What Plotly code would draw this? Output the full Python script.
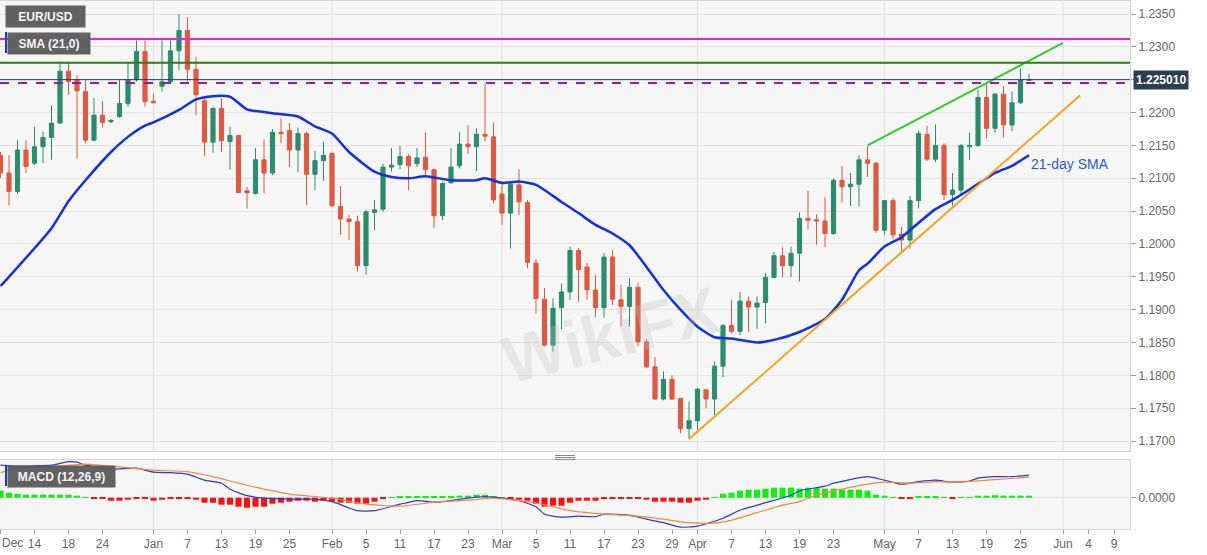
import pandas as pd
import plotly.graph_objects as go

# ---------------- data ----------------
dates = pd.bdate_range("2020-12-08", "2021-05-26").strftime("%Y-%m-%d").tolist()

open_ = [1.2135, 1.2108, 1.2080, 1.2143, 1.2123, 1.2148, 1.2162, 1.2184, 1.2263, 1.2250,
         1.2232, 1.2158, 1.2196, 1.2186, 1.2194, 1.2214, 1.2250, 1.2293, 1.2217, 1.2240,
         1.2247, 1.2294, 1.2325, 1.2266, 1.2218, 1.2155, 1.2206, 1.2156, 1.2165, 1.2081,
         1.2077, 1.2128, 1.2108, 1.2170, 1.2173, 1.2143, 1.2168, 1.2106, 1.2127, 1.2138,
         1.2057, 1.2038, 1.2034, 1.1967, 1.2048, 1.2053, 1.2117, 1.2121, 1.2133, 1.2122,
         1.2132, 1.2113, 1.2043, 1.2093, 1.2119, 1.2152, 1.2148, 1.2167, 1.2163, 1.2076,
         1.2047, 1.2090, 1.2063, 1.1971, 1.1916, 1.1846, 1.1903, 1.1927, 1.1990, 1.1965,
         1.1930, 1.1903, 1.1980, 1.1915, 1.1905, 1.1934, 1.1851, 1.1813, 1.1764, 1.1794,
         1.1765, 1.1719, 1.1731, 1.1778, 1.1764, 1.1814, 1.1876, 1.1867, 1.1913, 1.1904,
         1.1911, 1.1949, 1.1982, 1.1967, 1.1986, 1.2039, 1.2037, 1.2035, 1.2016, 1.2097,
         1.2087, 1.2091, 1.2128, 1.2123, 1.2021, 1.2066, 1.2015, 1.2006, 1.2066, 1.2167,
         1.2129, 1.2150, 1.2075, 1.2082, 1.2148, 1.2150, 1.2223, 1.2176, 1.2228, 1.2181,
         1.2215, 1.2249]
high = [1.2140, 1.2135, 1.2158, 1.2158, 1.2178, 1.2171, 1.2211, 1.2275, 1.2275, 1.2257,
        1.2250, 1.2222, 1.2217, 1.2190, 1.2250, 1.2275, 1.2310, 1.2310, 1.2229, 1.2310,
        1.2310, 1.2350, 1.2345, 1.2285, 1.2224, 1.2209, 1.2222, 1.2178, 1.2166, 1.2087,
        1.2146, 1.2159, 1.2175, 1.2191, 1.2184, 1.2177, 1.2171, 1.2142, 1.2156, 1.2139,
        1.2088, 1.2044, 1.2043, 1.2052, 1.2067, 1.2122, 1.2146, 1.2149, 1.2137, 1.2146,
        1.2170, 1.2115, 1.2095, 1.2146, 1.2170, 1.2181, 1.2176, 1.2244, 1.2185, 1.2095,
        1.2095, 1.2114, 1.2067, 1.1977, 1.1933, 1.1917, 1.1940, 1.1996, 1.1994, 1.1971,
        1.1953, 1.1986, 1.1991, 1.1938, 1.1948, 1.1941, 1.1855, 1.1828, 1.1806, 1.1800,
        1.1766, 1.1760, 1.1781, 1.1779, 1.1821, 1.1878, 1.1915, 1.1927, 1.1920, 1.1920,
        1.1956, 1.1988, 1.1995, 1.1996, 1.2048, 1.2081, 1.2045, 1.2071, 1.2100, 1.2119,
        1.2108, 1.2135, 1.2149, 1.2125, 1.2067, 1.2070, 1.2026, 1.2073, 1.2173, 1.2180,
        1.2182, 1.2153, 1.2108, 1.2152, 1.2169, 1.2235, 1.2247, 1.2230, 1.2240, 1.2232,
        1.2267, 1.2259]
low = [1.2100, 1.2059, 1.2076, 1.2108, 1.2120, 1.2123, 1.2128, 1.2183, 1.2227, 1.2130,
       1.2153, 1.2156, 1.2177, 1.2184, 1.2192, 1.2209, 1.2247, 1.2209, 1.2214, 1.2232,
       1.2244, 1.2265, 1.2247, 1.2196, 1.2134, 1.2139, 1.2140, 1.2113, 1.2077, 1.2054,
       1.2075, 1.2077, 1.2105, 1.2153, 1.2117, 1.2109, 1.2059, 1.2082, 1.2096, 1.2057,
       1.2014, 1.2006, 1.1958, 1.1953, 1.2021, 1.2049, 1.2110, 1.2114, 1.2082, 1.2117,
       1.2102, 1.2024, 1.2036, 1.2092, 1.2115, 1.2137, 1.2111, 1.2156, 1.2062, 1.2029,
       1.1993, 1.2044, 1.1963, 1.1894, 1.1844, 1.1836, 1.1870, 1.1915, 1.1912, 1.1915,
       1.1889, 1.1888, 1.1907, 1.1874, 1.1874, 1.1844, 1.1811, 1.1763, 1.1762, 1.1763,
       1.1712, 1.1704, 1.1717, 1.1750, 1.1740, 1.1797, 1.1864, 1.1861, 1.1866, 1.1871,
       1.1879, 1.1948, 1.1949, 1.1950, 1.1943, 1.2022, 1.1999, 1.1995, 1.2014, 1.2063,
       1.2058, 1.2057, 1.2102, 1.2017, 1.2014, 1.2007, 1.1988, 1.1993, 1.2054, 1.2126,
       1.2124, 1.2067, 1.2058, 1.2074, 1.2128, 1.2148, 1.2161, 1.2169, 1.2162, 1.2172,
       1.2213, 1.2248]
close = [1.2108, 1.2080, 1.2143, 1.2118, 1.2148, 1.2162, 1.2184, 1.2263, 1.2247, 1.2233,
         1.2158, 1.2196, 1.2185, 1.2188, 1.2214, 1.2250, 1.2293, 1.2217, 1.2215, 1.2247,
         1.2294, 1.2325, 1.2266, 1.2227, 1.2155, 1.2206, 1.2157, 1.2165, 1.2078, 1.2078,
         1.2128, 1.2108, 1.2170, 1.2168, 1.2143, 1.2168, 1.2106, 1.2127, 1.2135, 1.2058,
         1.2038, 1.2034, 1.1967, 1.2049, 1.2052, 1.2117, 1.2120, 1.2133, 1.2119, 1.2131,
         1.2113, 1.2043, 1.2092, 1.2117, 1.2152, 1.2148, 1.2167, 1.2164, 1.2067, 1.2047,
         1.2091, 1.2064, 1.1972, 1.1917, 1.1846, 1.1902, 1.1927, 1.1990, 1.1961, 1.1930,
         1.1903, 1.1980, 1.1916, 1.1905, 1.1934, 1.1851, 1.1813, 1.1764, 1.1794, 1.1764,
         1.1719, 1.1731, 1.1779, 1.1764, 1.1814, 1.1876, 1.1867, 1.1913, 1.1904, 1.1910,
         1.1949, 1.1982, 1.1967, 1.1986, 1.2039, 1.2036, 1.2035, 1.2016, 1.2097, 1.2087,
         1.2091, 1.2128, 1.2123, 1.2021, 1.2066, 1.2014, 1.2006, 1.2066, 1.2168, 1.2129,
         1.2150, 1.2075, 1.2082, 1.2150, 1.2150, 1.2223, 1.2176, 1.2228, 1.2181, 1.2215,
         1.2250, 1.22501]

# 21-day SMA (trading-day index -> value)
sma_idx = [0, 1, 6, 8, 10, 13, 15, 17, 18, 21, 23, 25, 27, 29, 32, 35, 37, 39, 41, 44,
           46, 48, 50, 53, 56, 57, 59, 61, 63, 66, 68, 70, 72, 74, 76, 78, 80, 82, 84, 86,
           89, 91, 94, 97, 99, 101, 102, 104, 106, 107, 110, 112, 114, 117, 119, 121]
sma_vals = [1.1936, 1.1950, 1.2024, 1.2065, 1.2097, 1.2140, 1.2163, 1.2180, 1.2185, 1.2204,
            1.2220, 1.2225, 1.2224, 1.2205, 1.2199, 1.2194, 1.2179, 1.2168, 1.2140, 1.2110,
            1.2102, 1.2100, 1.2103, 1.2097, 1.2097, 1.2100, 1.2093, 1.2095, 1.2090, 1.2064,
            1.2047, 1.2029, 1.2016, 1.1998, 1.1965, 1.1930, 1.1900, 1.1874, 1.1858, 1.1856,
            1.1850, 1.1854, 1.1866, 1.1886, 1.1915, 1.1960, 1.1970, 1.1996, 1.2010, 1.2021,
            1.2053, 1.2067, 1.2083, 1.2108, 1.2119, 1.2135]

# MACD (12,26,9)
macd_idx = [0, 2, 6, 8, 9, 10, 13, 16, 18, 20, 22, 24, 26, 27, 29, 31, 34, 37, 39, 42,
            44, 47, 49, 51, 52, 55, 57, 59, 61, 63, 64, 66, 68, 70, 71, 74, 76, 78, 80, 82,
            85, 87, 90, 93, 94, 97, 98, 102, 104, 106, 108, 110, 112, 114, 115, 117, 119, 121]
macd_vals = [0.0065, 0.0063, 0.0065, 0.0072, 0.0071, 0.0065, 0.0057, 0.0059, 0.0051, 0.0050,
             0.0047, 0.0035, 0.0029, 0.0017, 0.0004, -0.0001, -0.0003, -0.0003, -0.0008, -0.0026,
             -0.0026, -0.0013, -0.0006, -0.0009, -0.0008, -0.0001, 0.0002, -0.0001, -0.0006, -0.0018,
             -0.0033, -0.0039, -0.0037, -0.0038, -0.0033, -0.0035, -0.0043, -0.0050, -0.0059, -0.0057,
             -0.0041, -0.0025, -0.0010, 0.0005, 0.0014, 0.0023, 0.0029, 0.0042, 0.0035, 0.0027,
             0.0032, 0.0035, 0.0031, 0.0033, 0.0039, 0.0042, 0.0042, 0.0045]
signal_idx = [0, 2, 6, 10, 13, 18, 22, 25, 28, 31, 34, 39, 43, 47, 51, 55, 58, 62, 65, 67,
              71, 75, 78, 81, 84, 86, 89, 92, 94, 96, 99, 102, 104, 107, 110, 112, 116, 121]
signal_vals = [0.0050, 0.0059, 0.0062, 0.0067, 0.0063, 0.0055, 0.0052, 0.0042, 0.0029, 0.0017,
               0.0007, -0.0001, -0.0013, -0.0017, -0.0009, -0.0005, -0.0001, -0.0008, -0.0018, -0.0026,
               -0.0033, -0.0037, -0.0043, -0.0050, -0.0051, -0.0045, -0.0030, -0.0015, -0.0008, 0.0005,
               0.0017, 0.0027, 0.0031, 0.0029, 0.0032, 0.0031, 0.0035, 0.0041]
hist_vals = [0.0014, 0.0010, 0.0008, 0.0006, 0.0006, 0.0006, 0.0006, 0.0006, 0.0006, 0.0004,
             0.00006, -0.0002, -0.0002, -0.0006, -0.0006, -0.0004, -0.0002, -0.0002, -0.0006, -0.0004,
             -0.0002, -0.0002, -0.0002, -0.0004, -0.0010, -0.0010, -0.0014, -0.0014, -0.0018, -0.0020,
             -0.0018, -0.0018, -0.0012, -0.0010, -0.0008, -0.0006, -0.0006, -0.0008, -0.0006, -0.0008,
             -0.0010, -0.0010, -0.0012, -0.0012, -0.0008, -0.0002, 0.00006, 0.0002, 0.0002, 0.0002,
             0.0002, 0.0002, 0.0002, 0.0003, 0.0004, 0.0004, 0.0006, 0.0006, 0.0002, 0.00006,
             -0.0002, -0.0004, -0.0006, -0.0012, -0.0018, -0.0016, -0.0016, -0.0010, -0.0006, -0.0006,
             -0.0006, -0.0002, -0.0002, -0.0002, -0.0002, -0.0002, -0.0004, -0.0008, -0.0008, -0.0008,
             -0.0010, -0.0010, -0.0006, -0.0004, 0.00006, 0.0008, 0.0010, 0.0014, 0.0016, 0.0016,
             0.0018, 0.0020, 0.0020, 0.0020, 0.0018, 0.0020, 0.0020, 0.0018, 0.0018, 0.0016,
             0.0016, 0.0016, 0.0014, 0.0006, 0.0004, 0.00006, -0.0002, -0.0002, 0.0002, 0.0002,
             0.0002, 0.00006, -0.0001, 0.00006, 0.00006, 0.0004, 0.0004, 0.0005, 0.0004, 0.0004,
             0.0004, 0.0004]

# horizontal levels and trend lines
resist_levels = [1.2312, 1.2276]
dashed_level = 1.2245
last_price = 1.22501
upper_line_dates = ["2021-04-29", "2021-06-01"]
upper_line_vals = [1.2150, 1.2306]
lower_line_dates = ["2021-03-31", "2021-06-03"]
lower_line_vals = [1.1703, 1.2226]

price_ticks = [1.1700, 1.1750, 1.1800, 1.1850, 1.1900, 1.1950, 1.2000, 1.2050,
               1.2100, 1.2150, 1.2200, 1.2250, 1.2300, 1.2350]
price_tick_text = ["1.1700", "1.1750", "1.1800", "1.1850", "1.1900", "1.1950", "1.2000",
                   "1.2050", "1.2100", "1.2150", "1.2200", "", "1.2300", "1.2350"]

tick_dates = ["2020-12-08", "2020-12-14", "2020-12-18", "2020-12-24", "2021-01-01", "2021-01-07",
              "2021-01-13", "2021-01-19", "2021-01-25", "2021-02-01", "2021-02-05", "2021-02-11",
              "2021-02-17", "2021-02-23", "2021-03-01", "2021-03-05", "2021-03-11", "2021-03-17",
              "2021-03-23", "2021-03-29", "2021-04-01", "2021-04-07", "2021-04-13", "2021-04-19",
              "2021-04-23", "2021-05-03", "2021-05-07", "2021-05-13", "2021-05-19", "2021-05-25",
              "2021-06-01", "2021-06-04", "2021-06-09"]
tick_text = ["", "14", "18", "24", "Jan", "7", "13", "19", "25", "Feb", "5", "11", "17", "23",
             "Mar", "5", "11", "17", "23", "29", "Apr", "7", "13", "19", "23", "May", "7", "13",
             "19", "25", "Jun", "4", "9"]
first_month_label = "Dec"
month_dates = ["2021-01-01", "2021-02-01", "2021-03-01", "2021-04-01", "2021-05-03", "2021-06-01"]

# ---------------- styling ----------------
W, H = 1207, 555
GREEN = "#2e8a6d"
RED = "#dc5a43"
FONT = "Arial, Liberation Sans, sans-serif"
x_right = 1130 / W
main_dom = [1 - 451 / H, 1 - 1 / H]
macd_dom = [1 - 529 / H, 1 - 460 / H]
x_range = ["2020-12-07 22:35", "2021-06-10 21:07"]

fig = go.Figure()

fig.add_trace(go.Candlestick(
    x=dates, open=open_, high=high, low=low, close=close,
    increasing=dict(line=dict(color=GREEN, width=1), fillcolor=GREEN),
    decreasing=dict(line=dict(color=RED, width=1), fillcolor=RED),
    whiskerwidth=0, showlegend=False, hoverinfo="skip", xaxis="x", yaxis="y"))

fig.add_trace(go.Scatter(
    x=[dates[i] for i in sma_idx], y=sma_vals, mode="lines",
    line=dict(color="#1530d8", width=2.5, shape="spline", smoothing=0.6),
    showlegend=False, hoverinfo="skip", xaxis="x", yaxis="y"))

fig.add_trace(go.Scatter(
    x=upper_line_dates, y=upper_line_vals, mode="lines",
    line=dict(color="#2ccf2a", width=2), showlegend=False, hoverinfo="skip",
    xaxis="x", yaxis="y"))
fig.add_trace(go.Scatter(
    x=lower_line_dates, y=lower_line_vals, mode="lines",
    line=dict(color="#f5a11e", width=2), showlegend=False, hoverinfo="skip",
    xaxis="x", yaxis="y"))

# MACD panel
fig.add_trace(go.Bar(
    x=dates, y=hist_vals,
    marker=dict(color=["#11ee11" if v >= 0 else "#ff1010" for v in hist_vals], line=dict(width=0)),
    showlegend=False, hoverinfo="skip", xaxis="x2", yaxis="y2"))
fig.add_trace(go.Scatter(
    x=[dates[i] for i in macd_idx], y=macd_vals, mode="lines",
    line=dict(color="#2c3ad0", width=1.2, shape="spline", smoothing=0.5),
    showlegend=False, hoverinfo="skip", xaxis="x2", yaxis="y2"))
fig.add_trace(go.Scatter(
    x=[dates[i] for i in signal_idx], y=signal_vals, mode="lines",
    line=dict(color="#f08a3c", width=1.2, shape="spline", smoothing=0.5),
    showlegend=False, hoverinfo="skip", xaxis="x2", yaxis="y2"))

shapes = []
for d in month_dates:
    for xr, yr in (("x", "y domain"), ("x2", "y2 domain")):
        shapes.append(dict(type="line", xref=xr, yref=yr, x0=d, x1=d, y0=0, y1=1,
                           line=dict(color="#e2e2e2", width=1), layer="below"))
# horizontal levels
shapes.append(dict(type="line", xref="x domain", yref="y", x0=0, x1=1,
                   y0=resist_levels[0], y1=resist_levels[0], line=dict(color="#f019f0", width=2)))
shapes.append(dict(type="line", xref="x domain", yref="y", x0=0, x1=1,
                   y0=resist_levels[1], y1=resist_levels[1], line=dict(color="#2f7d10", width=2)))
shapes.append(dict(type="line", xref="x domain", yref="y", x0=0, x1=1,
                   y0=dashed_level, y1=dashed_level,
                   line=dict(color="#9a1aa6", width=2, dash="dash")))
shapes.append(dict(type="line", xref="x domain", yref="y", x0=0, x1=1,
                   y0=last_price, y1=last_price, line=dict(color="#2a3a6e", width=1)))
# label accents
shapes.append(dict(type="rect", xref="paper", yref="paper",
                   x0=5 / W, x1=7 / W, y0=1 - 53 / H, y1=1 - 32 / H,
                   fillcolor="#1c3cd6", line=dict(width=0)))
shapes.append(dict(type="rect", xref="paper", yref="paper",
                   x0=5 / W, x1=7 / W, y0=1 - 486 / H, y1=1 - 465 / H,
                   fillcolor="#1c3cd6", line=dict(width=0)))
# separator handle
for yy in (455.5, 457.5, 459.5):
    shapes.append(dict(type="line", xref="paper", yref="paper",
                       x0=555 / W, x1=575 / W, y0=1 - yy / H, y1=1 - yy / H,
                       line=dict(color="#888888", width=1)))

annotations = [
    # faint watermark
    dict(xref="paper", yref="paper", x=610 / W, y=1 - 335 / H, xanchor="center", yanchor="middle",
         text="<b>WikiFX</b>", showarrow=False, textangle=-14,
         font=dict(family=FONT, size=66, color="rgba(190,190,190,0.28)")),
    dict(xref="paper", yref="paper", x=5 / W, y=1 - 5 / H, xanchor="left", yanchor="top",
         text="<b>EUR/USD</b>", showarrow=False, bgcolor="#616161", borderpad=0,
         width=79, height=21, font=dict(family=FONT, size=12, color="#f4f4f4")),
    dict(xref="paper", yref="paper", x=7 / W, y=1 - 32 / H, xanchor="left", yanchor="top",
         text="<b>SMA (21,0)</b>", showarrow=False, bgcolor="#616161", borderpad=0,
         width=82, height=21, font=dict(family=FONT, size=12, color="#f4f4f4")),
    dict(xref="paper", yref="paper", x=7 / W, y=1 - 465 / H, xanchor="left", yanchor="top",
         text="<b>MACD (12,26,9)</b>", showarrow=False, bgcolor="rgba(90,90,90,0.95)",
         borderpad=0, width=107, height=21, font=dict(family=FONT, size=12, color="#f4f4f4")),
    dict(xref="paper", yref="y", x=1133 / W, y=last_price, xanchor="left", yanchor="middle",
         text="<b>1.225010</b>", showarrow=False, bgcolor="#2c3d55", borderpad=2,
         font=dict(family=FONT, size=12, color="#ffffff")),
    dict(xref="x", yref="y", x="2021-05-26", y=1.2122, xanchor="left", yanchor="middle",
         text="21-day SMA", showarrow=False,
         font=dict(family=FONT, size=14, color="#2b5db5")),
    # month label at the left edge (kept inside the canvas)
    dict(xref="paper", yref="paper", x=0, y=1 - 543 / H, xanchor="left", yanchor="middle",
         text=first_month_label, showarrow=False,
         font=dict(family=FONT, size=12, color="#666666")),
]

fig.update_layout(
    width=W, height=H, autosize=False,
    margin=dict(l=0, r=0, t=0, b=0),
    paper_bgcolor="#ffffff", plot_bgcolor="#f6f6f6",
    font=dict(family=FONT, size=12, color="#666666"),
    bargap=0.28, showlegend=False,
    shapes=shapes, annotations=annotations,
    xaxis=dict(domain=[0, x_right], type="date", range=x_range, anchor="y",
               rangebreaks=[dict(bounds=["sat", "mon"])], rangeslider=dict(visible=False),
               showticklabels=False, showgrid=False, zeroline=False, ticks="",
               showline=True, linecolor="#d6d6d6", mirror=True),
    yaxis=dict(domain=main_dom, side="right", range=[1.16849, 1.23698], anchor="x",
               tickmode="array", tickvals=price_ticks, ticktext=price_tick_text,
               gridcolor="#e4e4e4",
               ticks="outside", ticklen=5, tickcolor="#9a9a9a", zeroline=False,
               showline=True, linecolor="#d6d6d6",
               tickfont=dict(family=FONT, size=12, color="#666666")),
    xaxis2=dict(domain=[0, x_right], type="date", range=x_range, anchor="y2", matches="x",
                rangebreaks=[dict(bounds=["sat", "mon"])], rangeslider=dict(visible=False),
                tickmode="array", tickvals=tick_dates, ticktext=tick_text,
                ticks="outside", ticklen=4, tickcolor="#9a9a9a", showgrid=False, zeroline=False,
                showline=True, linecolor="#d6d6d6", mirror=True,
                tickfont=dict(family=FONT, size=12, color="#666666")),
    yaxis2=dict(domain=macd_dom, side="right", range=[-0.00626, 0.00754], anchor="x2",
                tickmode="array", tickvals=[0], ticktext=["0.0000"], gridcolor="#e2e2e2",
                ticks="outside", ticklen=5, tickcolor="#9a9a9a", zeroline=False,
                showline=True, linecolor="#d6d6d6",
                tickfont=dict(family=FONT, size=12, color="#666666")),
)

fig.write_html(
    "out.html",
    config={"displayModeBar": False, "staticPlot": False},
    post_script="document.body.style.margin='0';document.body.style.padding='0';"
                "document.body.style.overflow='hidden';",
)
